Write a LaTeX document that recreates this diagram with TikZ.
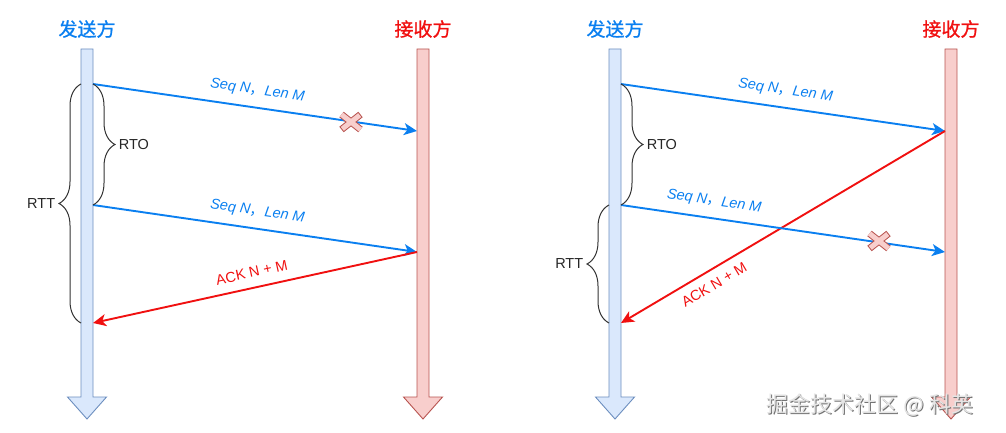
\documentclass[tikz,border=0pt]{standalone}
\usepackage{fontspec}
\setmainfont{Liberation Sans}
\newfontfamily\cjk{Noto Sans CJK SC}
\newfontfamily\cjktitle{Noto Sans CJK SC}[FakeBold=1]
\usetikzlibrary{arrows.meta,decorations.pathreplacing}

\definecolor{sendfill}{HTML}{DAE8FC}
\definecolor{senddraw}{HTML}{6C8EBF}
\definecolor{recvfill}{HTML}{F8CECC}
\definecolor{recvdraw}{HTML}{B85450}
\definecolor{segblue}{HTML}{0A7FF0}
\definecolor{ackred}{HTML}{F01010}

\tikzset{
  lifeline/.style={line width=0.9pt, line join=miter},
  seg/.style={segblue, line width=1.9pt, -{Stealth[length=13pt,width=12pt,inset=3.5pt]}},
  ack/.style={ackred, line width=1.9pt, -{Stealth[length=13pt,width=12pt,inset=3.5pt]}},
  seglabel/.style={segblue, font=\fontsize{14.5}{16}\selectfont\itshape, sloped},
  acklabel/.style={ackred, font=\fontsize{14.5}{16}\selectfont, sloped},
  timer/.style={decorate, decoration={brace, amplitude=22pt}, line width=1pt, black!80},
  timerlabel/.style={font=\fontsize{14.5}{16}\selectfont, black!85},
  title/.style={font=\cjktitle\fontsize{19}{22}\selectfont},
  lost/.pic={
    \draw[recvdraw, line width=7pt] (-9.5,-7.5) -- (9.5,7.5) (-9.5,7.5) -- (9.5,-7.5);
    \draw[recvfill, line width=5pt, shorten <=1pt, shorten >=1pt]
      (-9.5,-7.5) -- (9.5,7.5) (-9.5,7.5) -- (9.5,-7.5);
  }
}

\begin{document}
\begin{tikzpicture}[x=1pt,y=-1pt]
  \useasboundingbox (0,0) rectangle (1006,433);

  % lifelines
  \foreach \cx/\fc/\dc in {87/sendfill/senddraw, 423/recvfill/recvdraw,
                           615/sendfill/senddraw, 951/recvfill/recvdraw}
    \filldraw[lifeline, fill=\fc, draw=\dc]
      ({\cx-6},49) -- ({\cx+6},49) -- ({\cx+6},397) -- ({\cx+19.5},397)
      -- (\cx,419) -- ({\cx-19.5},397) -- ({\cx-6},397) -- cycle;

  \node[title, segblue] (lsnd) at (87,29) {发送方};
  \node[title, ackred] (lrcv) at (423,29) {接收方};
  \node[title, segblue] (rsnd) at (615,29) {发送方};
  \node[title, ackred] (rrcv) at (951,29) {接收方};

  % left: first segment lost, retransmission acked
  \coordinate (ls1) at (93,84);
  \coordinate (lr1) at (417,131);
  \coordinate (ls2) at (93,205);
  \coordinate (lr2) at (417,252);
  \coordinate (lack) at (93,323);
  \coordinate (lrtt1) at (81,84);
  \coordinate (lrtt2) at (81,323);

  \draw[seg] (ls1) -- (lr1)
    node[seglabel, midway, above=6pt] {Seq N{\cjk ，}Len M};
  \pic at (351,122) {lost};
  \draw[seg] (ls2) -- (lr2)
    node[seglabel, midway, above=6pt] {Seq N{\cjk ，}Len M};
  \draw[ack] (lr2) -- (lack)
    node[acklabel, midway, above=6pt] {ACK N + M};
  \draw[timer] (ls1) -- (ls2) node[timerlabel, midway, right=22pt] {RTO};
  \draw[timer] (lrtt2) -- (lrtt1) node[timerlabel, midway, left=22pt] {RTT};

  % right: ack of first segment crosses the retransmission
  \coordinate (rs1) at (621,84);
  \coordinate (rr1) at (945,131);
  \coordinate (rs2) at (621,205);
  \coordinate (rr2) at (945,252);
  \coordinate (rack) at (621,323);
  \coordinate (rrtt1) at (609,205);
  \coordinate (rrtt2) at (609,323);

  \draw[seg] (rs1) -- (rr1)
    node[seglabel, midway, above=6pt] {Seq N{\cjk ，}Len M};
  \draw[ack] (rr1) -- (rack)
    node[acklabel, pos=0.735, below=5pt] {ACK N + M};
  \draw[seg] (rs2) -- (rr2)
    node[seglabel, pos=0.28, above=6pt] {Seq N{\cjk ，}Len M};
  \pic at (879,241) {lost};
  \draw[timer] (rs1) -- (rs2) node[timerlabel, midway, right=22pt] {RTO};
  \draw[timer] (rrtt2) -- (rrtt1) node[timerlabel, midway, left=22pt] {RTT};

  % watermark
  \node[font=\cjk\fontsize{22}{24}\selectfont, black!55] (wmshadow) at (871,406) {掘金技术社区 @ 科英};
  \node[font=\cjk\fontsize{22}{24}\selectfont, white!90!black] (wm) at (870,405) {掘金技术社区 @ 科英};
\end{tikzpicture}
\end{document}
